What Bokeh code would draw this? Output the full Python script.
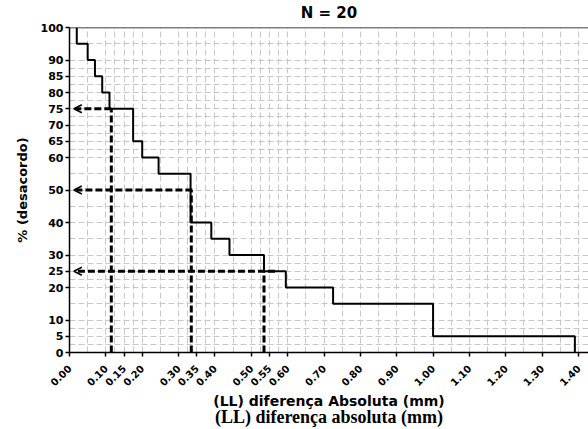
from bokeh.plotting import figure
from bokeh.models import (Range1d, FixedTicker, Span, Arrow, OpenHead, LinearAxis,
                          ColumnDataSource, PrintfTickFormatter)
from bokeh.embed import file_html
from bokeh.resources import INLINE

# ---- data ----
x_ticks = [0.00, 0.10, 0.15, 0.20, 0.30, 0.35, 0.40, 0.50, 0.55, 0.60,
           0.70, 0.80, 0.90, 1.00, 1.10, 1.20, 1.30, 1.40]
y_ticks = [0, 5, 10, 20, 25, 30, 40, 50, 60, 65, 70, 75, 80, 85, 90, 100]

# sorted absolute differences where the curve steps down
step_x = [0.02, 0.05, 0.07, 0.09, 0.11, 0.175, 0.20, 0.245, 0.333,
          0.39, 0.44, 0.535, 0.595, 0.725, 1.00, 1.39]
# % disagreement levels (before first step, then after each step)
levels = [100, 95, 90, 85, 80, 75, 65, 60, 55, 40, 35, 30, 25, 20, 15, 5, 0]

# quartile read-offs
quart_pct = [75, 50, 25]
quart_x = [0.115, 0.335, 0.535]
arrow_from = [0.115, 0.338, 0.565]
arrow_tip = 0.012

title_text = "N = 20"
xlabel_1 = "(LL) diferença Absoluta (mm)"
xlabel_2 = "(LL) diferença absoluta (mm)"
ylabel = "% (desacordo)"

# ---- figure ----
W, H = 588, 429
p = figure(width=W, height=H, output_backend="svg", toolbar_location=None,
           x_range=Range1d(0, 1.4275), y_range=Range1d(0, 100),
           min_border_left=69, min_border_right=0, min_border_top=27,
           min_border_bottom=77)
p.outline_line_color = None
p.background_fill_color = "white"

xax = p.below[0]
yax = p.left[0]

x_minor = [(a + b) / 2 for a, b in zip(x_ticks[:-1], x_ticks[1:])]
y_minor = [(a + b) / 2 for a, b in zip(y_ticks[:-1], y_ticks[1:])]
xax.ticker = FixedTicker(ticks=x_ticks, minor_ticks=x_minor)
yax.ticker = FixedTicker(ticks=y_ticks, minor_ticks=y_minor)
xax.formatter = PrintfTickFormatter(format="%.2f")

for g in (p.xgrid, p.ygrid):
    g.grid_line_color = "#c8c8c8"
    g.grid_line_dash = "6 3"
    g.grid_line_width = 1
    g.minor_grid_line_color = "#c8c8c8"
    g.minor_grid_line_dash = "6 3"
    g.minor_grid_line_width = 1

for ax in (xax, yax):
    ax.axis_line_color = "black"
    ax.axis_line_width = 1.5
    ax.major_tick_line_color = "black"
    ax.major_tick_line_width = 1.5
    ax.major_tick_in = 0
    ax.major_tick_out = 4
    ax.minor_tick_line_color = None
    ax.major_label_text_font = "DejaVu Sans"
    ax.major_label_text_font_style = "bold"
    ax.major_label_text_color = "black"

yax.major_label_text_font_size = "11px"
yax.major_label_standoff = 2
yax.axis_label = ylabel
yax.axis_label_text_font = "DejaVu Sans"
yax.axis_label_text_font_style = "bold"
yax.axis_label_text_font_size = "13px"
yax.axis_label_text_color = "black"
yax.axis_label_standoff = 8

xax.major_label_text_font_size = "10px"
xax.major_label_orientation = 0.785398
xax.major_label_standoff = 10
xax.axis_label = xlabel_1
xax.axis_label_text_font = "DejaVu Sans"
xax.axis_label_text_font_style = "bold"
xax.axis_label_text_font_size = "14px"
xax.axis_label_text_color = "black"
xax.axis_label_standoff = 0


def text_axis(label, font, size, standoff):
    a = LinearAxis(ticker=FixedTicker(ticks=[]), axis_line_color=None,
                   major_tick_line_color=None, minor_tick_line_color=None,
                   axis_label=label, axis_label_text_font=font,
                   axis_label_text_font_style="bold",
                   axis_label_text_font_size=size,
                   axis_label_text_color="black",
                   axis_label_standoff=standoff)
    return a


# second (overlapping) x-axis title
ax2 = text_axis(xlabel_2, "Liberation Serif", "18px", -5)
p.add_layout(ax2, "below")

# title above the plot
ax_top = text_axis(title_text, "DejaVu Sans", "15px", 6)
p.add_layout(ax_top, "above")

# top border at 100 %
p.add_layout(Span(location=100, dimension="width", line_color="black", line_width=1.5))

# step curve built from the data
xs = [step_x[0]]
ys = [levels[0]]
for i, sx in enumerate(step_x):
    xs += [sx, sx]
    ys += [levels[i], levels[i + 1]]
p.line(xs, ys, line_color="black", line_width=2)

# quartile guides
p.segment(x0=quart_x, y0=[0] * len(quart_x), x1=quart_x, y1=quart_pct,
          line_color="black", line_width=3, line_dash="7 3")
src = ColumnDataSource(dict(xs=arrow_from, ys=quart_pct,
                            xe=[arrow_tip] * len(quart_pct), ye=quart_pct))
p.add_layout(Arrow(end=OpenHead(size=8, line_width=1.5, line_color="black"),
                   x_start="xs", y_start="ys", x_end="xe", y_end="ye", source=src,
                   line_color="black", line_width=3, line_dash="7 3"))

open("out.html", "w").write(file_html(p, INLINE))
